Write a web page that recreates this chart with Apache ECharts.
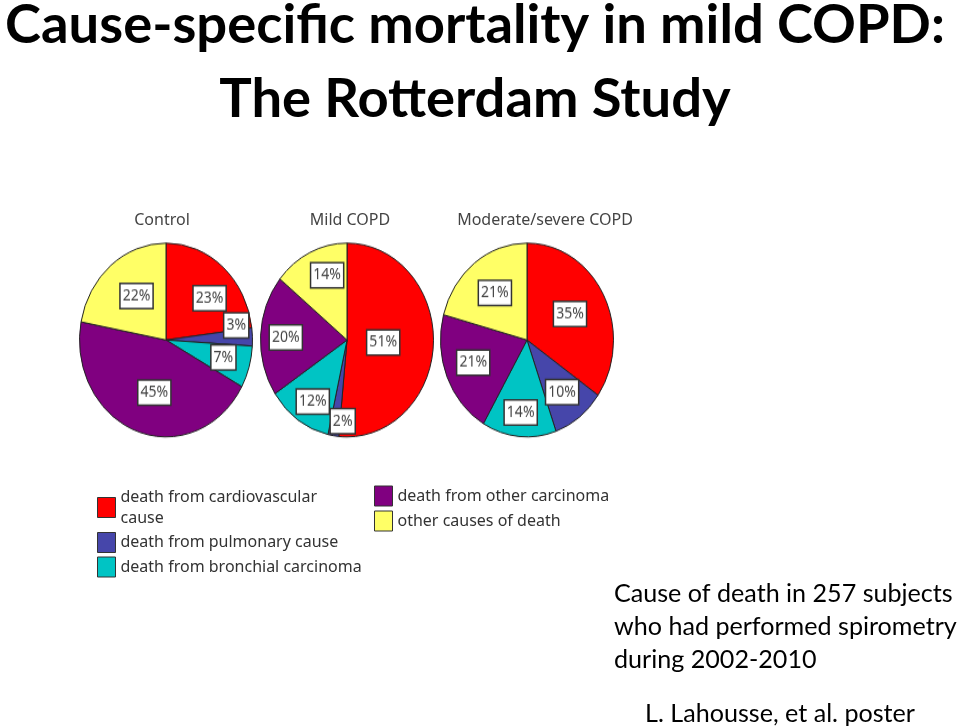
<!DOCTYPE html>
<html><head><meta charset="utf-8">
<script src="https://cdn.jsdelivr.net/npm/echarts@6/dist/echarts.min.js"></script>
<style>
html,body{margin:0;padding:0;background:#fff}
#wrap{position:relative;width:960px;height:728px;overflow:hidden}
#c{position:absolute;left:0;top:0;width:960px;height:728px}
#p{position:absolute;left:0;top:240px;width:960px;height:200px;transform-origin:0 0;transform:scaleY(1.12)}
</style>
</head><body><div id="wrap"><div id="c"></div><div id="p"></div></div>
<script>
const categories = ['death from cardiovascular cause','death from pulmonary cause','death from bronchial carcinoma','death from other carcinoma','other causes of death'];
const groups = ['Control','Mild COPD','Moderate/severe COPD'];
const controlValues = [23, 3, 7, 45, 22];
const mildValues = [51, 2, 12, 20, 14];
const moderateValues = [35, 10, 14, 21, 21];
const titleLines = ['Cause-specific mortality in mild COPD:', 'The Rotterdam Study'];
const noteLines = ['Cause of death in 257 subjects', 'who had performed spirometry', 'during 2002-2010'];
const citation = 'L. Lahousse, et al. poster';

const colors = ['#FF0000', '#4646AA', '#00C4C4', '#800080', '#FFFF66'];
const ySquash = 1.12;
// label nudges (screen px) so the boxes sit where the original ones do
const labelNudge = [
  [[13, -3], [24, -13], [13, 3], [4, 4], [0, -4]],
  [[-10, 0], [3, 30], [-8, 19], [-15, 0], [0, -18]],
  [[2, -2], [7, 11], [-2, 21], [-11, 3], [-4, -6]]
];

const ctx = document.createElement('canvas').getContext('2d');
function fit(text, font, weight, target) {
  ctx.font = weight + ' 100px ' + font;
  return 100 * target / ctx.measureText(text).width;
}
const titleSize = fit(titleLines[0], 'Lato', 'bold', 940);
const noteSize = fit(noteLines[1], 'Lato', 'normal', 343);

const main = echarts.init(document.getElementById('c'));
const pies = echarts.init(document.getElementById('p'));

const centers = [[166, 340], [347, 340], [527, 340]];
const allValues = [controlValues, mildValues, moderateValues];

const series = allValues.map((vals, gi) => ({
  type: 'pie',
  name: groups[gi],
  center: [centers[gi][0], (centers[gi][1] - 240) / ySquash],
  radius: 86.5,
  startAngle: 90,
  clockwise: true,
  animation: false,
  silent: true,
  avoidLabelOverlap: false,
  itemStyle: { borderColor: '#222', borderWidth: 1 },
  label: {
    show: true, position: 'inside', formatter: '{c}%',
    color: '#444', fontFamily: 'Noto Sans', fontSize: 14,
    backgroundColor: '#fff', borderColor: '#333', borderWidth: 1.5,
    padding: [4, 2, 3, 2]
  },
  labelLine: { show: false },
  labelLayout: function (p) {
    const n = labelNudge[gi][p.dataIndex];
    return { dx: n[0], dy: n[1] / ySquash, hideOverlap: false };
  },
  data: categories.map((c, i) => ({ name: c, value: vals[i] }))
}));

pies.setOption({ color: colors, series: series });

const legendBase = {
  orient: 'vertical', icon: 'rect', itemWidth: 18, itemHeight: 20, itemGap: 3.5,
  selectedMode: false, padding: 0,
  textStyle: { fontFamily: 'Noto Sans', fontSize: 16, color: '#333', lineHeight: 21 },
  itemStyle: { borderColor: '#333', borderWidth: 1 }
};
const subTitle = { fontFamily: 'Noto Sans', fontWeight: 'normal', fontSize: 16, color: '#444' };

main.setOption({
  color: colors,
  title: [
    { text: titleLines[0], left: 475, top: -2, textAlign: 'center', padding: 0,
      textStyle: { fontFamily: 'Lato', fontWeight: 'bold', fontSize: titleSize, color: '#000' } },
    { text: titleLines[1], left: 475, top: 72, textAlign: 'center', padding: 0,
      textStyle: { fontFamily: 'Lato', fontWeight: 'bold', fontSize: titleSize, color: '#000' } },
    { text: groups[0], left: 162, top: 212, textAlign: 'center', padding: 0, textStyle: subTitle },
    { text: groups[1], left: 350, top: 212, textAlign: 'center', padding: 0, textStyle: subTitle },
    { text: groups[2], left: 545, top: 212, textAlign: 'center', padding: 0, textStyle: subTitle },
    { text: noteLines.join('\n'), left: 614, top: 577, padding: 0,
      textStyle: { fontFamily: 'Lato', fontWeight: 'normal', fontSize: noteSize, color: '#000', lineHeight: 33 } },
    { text: citation, left: 780, top: 697, textAlign: 'center', padding: 0,
      textStyle: { fontFamily: 'Lato', fontWeight: 'normal', fontSize: noteSize, color: '#000', lineHeight: 33 } }
  ],
  legend: [
    Object.assign({}, legendBase, {
      left: 97, top: 486.5,
      data: categories.slice(0, 3),
      formatter: n => n === categories[0] ? 'death from cardiovascular\ncause' : n
    }),
    Object.assign({}, legendBase, {
      left: 374, top: 485.5, itemGap: 4,
      data: categories.slice(3)
    })
  ],
  series: [{ type: 'pie', radius: 0, silent: true, label: { show: false },
    data: categories.map(c => ({ name: c, value: 1 })) }]
});
</script></body></html>
